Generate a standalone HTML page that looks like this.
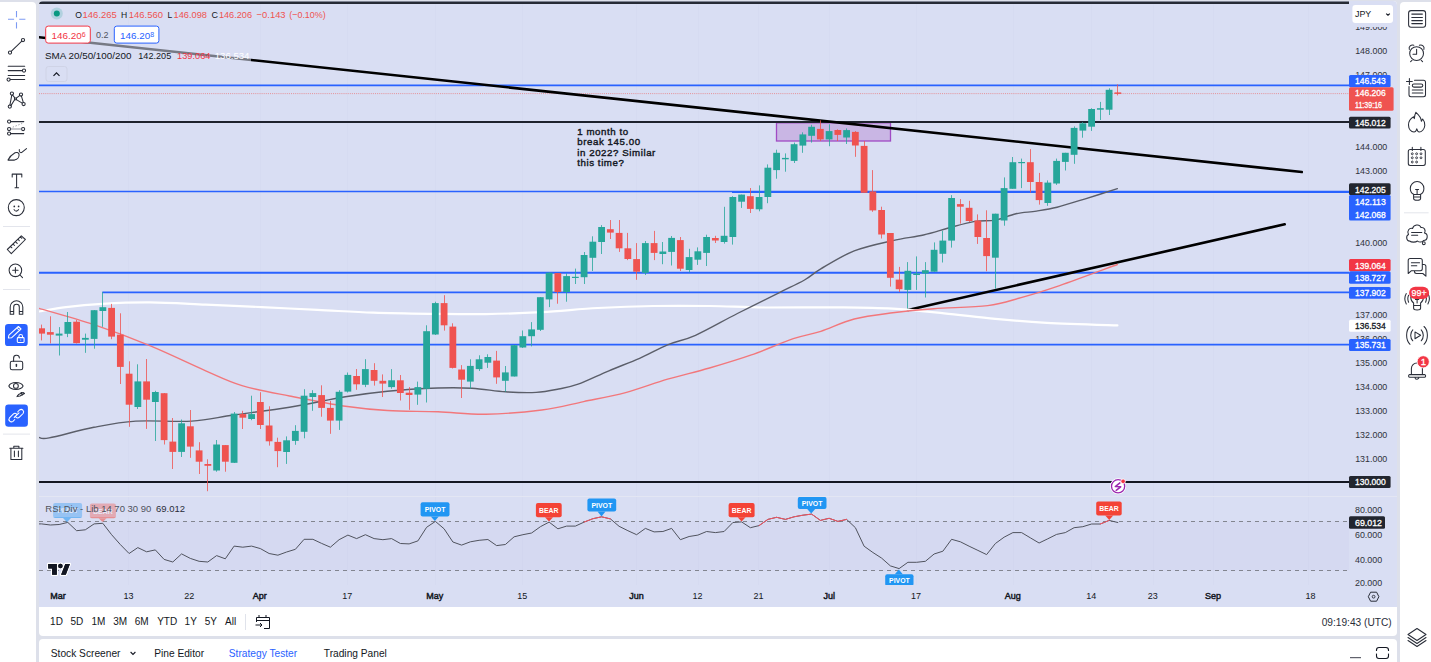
<!DOCTYPE html><html><head><meta charset="utf-8"><style>
html,body{margin:0;padding:0;}
body{width:1431px;height:662px;overflow:hidden;background:#dde0ea;position:relative;font-family:"Liberation Sans", sans-serif;}
.p{position:absolute;}
svg text{font-family:"Liberation Sans", sans-serif;}
</style></head><body>
<div class="p" style="left:0;top:2px;width:36px;height:660px;background:#fff;border-radius:0 4px 0 0;"></div>
<div class="p" style="left:1400px;top:2px;width:31px;height:660px;background:#fff;border-radius:4px 0 0 0;"></div>
<div class="p" style="left:39px;top:1px;width:1358px;height:635px;background:#fff;border-radius:4px 4px 4px 4px;"></div>
<div class="p" style="left:39px;top:1px;width:1358px;height:606px;background:#d9def3;border-radius:4px 4px 0 0;"></div>
<div class="p" style="left:39px;top:639px;width:1358px;height:30px;background:#fff;border-radius:4px 4px 0 0;"></div>

<svg class="p" style="left:0;top:0" width="1431" height="662" viewBox="0 0 1431 662">
<defs><clipPath id="cm"><path d="M39 496 V5 A4 4 0 0 1 43 1 H1349 V496 Z"/></clipPath><clipPath id="cr"><rect x="39" y="497" width="1310" height="88"/></clipPath></defs>
<g stroke="#d6dbf1" stroke-width="1">
<line x1="128.5" y1="4" x2="128.5" y2="585"/>
<line x1="260.5" y1="4" x2="260.5" y2="585"/>
<line x1="347.5" y1="4" x2="347.5" y2="585"/>
<line x1="435.5" y1="4" x2="435.5" y2="585"/>
<line x1="522.5" y1="4" x2="522.5" y2="585"/>
<line x1="636.5" y1="4" x2="636.5" y2="585"/>
<line x1="698.5" y1="4" x2="698.5" y2="585"/>
<line x1="758.5" y1="4" x2="758.5" y2="585"/>
<line x1="829.5" y1="4" x2="829.5" y2="585"/>
<line x1="916.5" y1="4" x2="916.5" y2="585"/>
<line x1="1013.5" y1="4" x2="1013.5" y2="585"/>
<line x1="1091.5" y1="4" x2="1091.5" y2="585"/>
<line x1="1153.5" y1="4" x2="1153.5" y2="585"/>
<line x1="1213.5" y1="4" x2="1213.5" y2="585"/>
<line x1="1308.5" y1="4" x2="1308.5" y2="585"/>
</g>
<rect x="39" y="496" width="1358" height="1" fill="#e3e6f3"/>
<g clip-path="url(#cm)">
<rect x="776.5" y="122.8" width="114" height="18.2" fill="#c9b6e4" stroke="#a04bc4" stroke-width="1.3"/>
<line x1="39" y1="2.7" x2="1349" y2="2.7" stroke="#262a35" stroke-width="2.6" />
<line x1="39" y1="85.3" x2="1349" y2="85.3" stroke="#2962ff" stroke-width="1.8" />
<line x1="39" y1="93.6" x2="1349" y2="93.6" stroke="#ef5350" stroke-width="1" stroke-dasharray="1 1.1" stroke-opacity="0.55"/>
<line x1="39" y1="122" x2="1349" y2="122" stroke="#1e222d" stroke-width="2.0" />
<line x1="39" y1="191.4" x2="1349" y2="191.4" stroke="#2962ff" stroke-width="1.5" />
<line x1="732" y1="192.2" x2="1349" y2="192.2" stroke="#2962ff" stroke-width="1.5" />
<line x1="39" y1="272.75" x2="1349" y2="272.75" stroke="#2962ff" stroke-width="1.8" />
<line x1="102.3" y1="292.4" x2="1349" y2="292.4" stroke="#2962ff" stroke-width="1.8" />
<line x1="39" y1="344.7" x2="1349" y2="344.7" stroke="#2962ff" stroke-width="1.8" />
<line x1="39" y1="482" x2="1349" y2="482" stroke="#131722" stroke-width="2" />
<line x1="39" y1="37.3" x2="1301.8" y2="172" stroke="#000" stroke-width="2.6" stroke-linecap="round"/>
<line x1="908" y1="310" x2="1284.7" y2="224.3" stroke="#000" stroke-width="2.6" stroke-linecap="round"/>
<path d="M39.0 311.5 C43.5 310.8 55.5 308.4 66.0 307.1 C76.5 305.8 88.3 304.6 102.3 303.8 C116.3 303.0 132.6 302.3 149.8 302.4 C167.0 302.5 187.1 303.8 205.7 304.6 C224.3 305.4 243.0 306.2 261.6 307.1 C280.2 308.0 298.9 309.0 317.5 309.9 C336.1 310.8 354.6 312.0 373.4 312.7 C392.1 313.4 411.2 313.6 430.0 313.8 C448.8 314.0 467.3 314.4 485.9 314.1 C504.5 313.8 523.2 313.1 541.8 312.1 C560.4 311.1 579.1 309.0 597.7 308.0 C616.3 307.0 635.0 306.3 653.6 306.0 C672.2 305.7 690.9 305.8 709.5 306.0 C728.1 306.2 743.4 307.3 765.4 307.5 C787.4 307.7 820.2 307.2 841.4 307.4 C862.6 307.6 875.6 307.7 892.7 308.7 C909.8 309.7 927.0 311.6 944.1 313.3 C961.2 315.0 978.3 317.3 995.4 318.9 C1012.5 320.5 1026.5 321.7 1046.8 322.8 C1067.1 323.9 1105.6 325.0 1117.4 325.4" fill="none" stroke="#ffffff" stroke-width="2.2" stroke-linecap="round"/>
<path d="M39.0 308.3 C48.1 311.0 75.4 318.5 93.9 324.7 C112.4 330.9 131.2 338.0 149.8 345.7 C168.4 353.4 190.3 364.1 205.7 370.8 C221.1 377.5 228.0 381.4 242.0 385.6 C256.0 389.8 272.3 392.6 289.5 396.0 C306.7 399.4 329.1 403.9 345.4 406.3 C361.7 408.7 372.0 409.6 387.4 410.5 C402.8 411.4 421.6 411.2 438.0 411.8 C454.4 412.4 468.6 414.5 485.9 414.2 C503.2 413.9 525.5 412.1 541.8 410.0 C558.1 407.9 569.7 404.5 583.7 401.6 C597.7 398.7 611.6 396.3 625.6 392.6 C639.6 388.9 653.6 383.3 667.6 379.2 C681.6 375.1 695.5 372.1 709.5 368.0 C723.5 363.9 737.4 359.8 751.4 354.9 C765.4 350.0 781.7 342.6 793.3 338.7 C804.9 334.8 810.6 334.6 820.8 331.3 C830.9 328.0 842.2 322.1 854.2 319.0 C866.2 315.9 879.4 314.5 892.7 312.8 C906.0 311.1 918.0 309.9 933.8 308.7 C949.6 307.5 973.2 307.5 987.7 305.6 C1002.2 303.8 1009.1 300.9 1021.1 297.6 C1033.1 294.3 1043.5 291.1 1059.6 285.6 C1075.6 280.1 1107.8 268.0 1117.4 264.5" fill="none" stroke="#f2777b" stroke-width="1.4" stroke-linecap="round"/>
<path d="M39.0 437.4 C40.7 437.5 40.1 439.6 49.2 437.9 C58.4 436.2 79.5 430.1 93.9 427.3 C108.3 424.5 119.5 422.1 135.8 421.1 C152.1 420.1 175.4 422.1 191.7 421.1 C208.0 420.1 217.3 417.3 233.6 415.0 C249.9 412.7 270.9 410.2 289.5 407.2 C308.1 404.2 329.1 399.5 345.4 396.8 C361.7 394.1 372.0 392.7 387.4 391.2 C402.8 389.7 423.9 388.5 438.0 388.0 C452.1 387.5 460.6 387.6 471.9 388.2 C483.1 388.8 494.8 391.1 505.5 391.8 C516.2 392.5 527.4 392.9 536.2 392.4 C545.1 391.9 551.6 390.4 558.6 389.0 C565.6 387.6 569.7 387.2 578.1 384.2 C586.5 381.2 598.6 375.1 608.9 370.8 C619.1 366.5 629.8 362.6 639.6 358.3 C649.4 354.0 658.3 348.6 667.6 344.8 C676.9 341.0 683.9 340.5 695.5 335.3 C707.1 330.1 723.4 320.6 737.4 313.5 C751.4 306.4 768.2 298.2 779.4 292.6 C790.6 287.0 797.6 283.9 804.5 280.0 C811.4 276.1 812.5 273.8 820.8 268.9 C829.1 264.0 842.2 255.6 854.2 250.9 C866.2 246.2 881.2 243.2 892.7 240.6 C904.2 237.9 914.1 237.1 923.5 235.0 C932.9 232.9 940.6 230.1 949.2 227.8 C957.8 225.5 967.2 222.7 974.9 221.4 C982.6 220.1 988.5 221.4 995.4 220.1 C1002.2 218.8 1009.1 215.2 1016.0 213.7 C1022.9 212.2 1029.7 212.2 1036.5 211.1 C1043.3 210.0 1049.0 209.2 1057.1 207.2 C1065.2 205.1 1075.2 201.9 1085.3 198.8 C1095.3 195.7 1112.1 190.4 1117.4 188.7" fill="none" stroke="#5b5e69" stroke-width="1.4" stroke-linecap="round"/>
<rect x="41" y="324.6" width="1" height="15.8" fill="#ef5350" fill-opacity="0.8"/>
<rect x="38.20" y="328.3" width="6.8" height="5.3" fill="#ef5350"/>
<rect x="50" y="316.3" width="1" height="27.1" fill="#ef5350" fill-opacity="0.8"/>
<rect x="46.95" y="332.1" width="6.8" height="2.6" fill="#ef5350"/>
<rect x="59" y="327.1" width="1" height="28.4" fill="#26a69a" fill-opacity="0.8"/>
<rect x="55.70" y="333.6" width="6.8" height="2.0" fill="#26a69a"/>
<rect x="67" y="312.0" width="1" height="25.1" fill="#26a69a" fill-opacity="0.8"/>
<rect x="64.45" y="322.0" width="6.8" height="11.8" fill="#26a69a"/>
<rect x="76" y="320.0" width="1" height="23.5" fill="#ef5350" fill-opacity="0.8"/>
<rect x="73.20" y="321.7" width="6.8" height="21.4" fill="#ef5350"/>
<rect x="85" y="333.6" width="1" height="19.2" fill="#26a69a" fill-opacity="0.8"/>
<rect x="81.95" y="337.9" width="6.8" height="1.8" fill="#26a69a"/>
<rect x="94" y="310.0" width="1" height="38.7" fill="#26a69a" fill-opacity="0.8"/>
<rect x="90.70" y="310.2" width="6.8" height="28.7" fill="#26a69a"/>
<rect x="102" y="292.1" width="1" height="34.7" fill="#26a69a" fill-opacity="0.8"/>
<rect x="99.45" y="307.2" width="6.8" height="3.8" fill="#26a69a"/>
<rect x="111" y="303.9" width="1" height="35.3" fill="#ef5350" fill-opacity="0.8"/>
<rect x="108.20" y="307.9" width="6.8" height="28.7" fill="#ef5350"/>
<rect x="120" y="313.3" width="1" height="70.7" fill="#ef5350" fill-opacity="0.8"/>
<rect x="116.95" y="334.7" width="6.8" height="32.2" fill="#ef5350"/>
<rect x="129" y="361.3" width="1" height="65.5" fill="#ef5350" fill-opacity="0.8"/>
<rect x="125.70" y="373.7" width="6.8" height="31.0" fill="#ef5350"/>
<rect x="137" y="364.3" width="1" height="44.7" fill="#26a69a" fill-opacity="0.8"/>
<rect x="134.45" y="381.4" width="6.8" height="25.6" fill="#26a69a"/>
<rect x="146" y="359.0" width="1" height="69.9" fill="#ef5350" fill-opacity="0.8"/>
<rect x="143.20" y="381.4" width="6.8" height="18.3" fill="#ef5350"/>
<rect x="155" y="390.8" width="1" height="50.2" fill="#26a69a" fill-opacity="0.8"/>
<rect x="151.95" y="392.0" width="6.8" height="10.0" fill="#26a69a"/>
<rect x="164" y="393.0" width="1" height="51.5" fill="#ef5350" fill-opacity="0.8"/>
<rect x="160.70" y="393.2" width="6.8" height="46.9" fill="#ef5350"/>
<rect x="172" y="418.0" width="1" height="51.0" fill="#ef5350" fill-opacity="0.8"/>
<rect x="169.45" y="441.6" width="6.8" height="10.3" fill="#ef5350"/>
<rect x="181" y="419.5" width="1" height="37.5" fill="#26a69a" fill-opacity="0.8"/>
<rect x="178.20" y="423.3" width="6.8" height="28.6" fill="#26a69a"/>
<rect x="190" y="410.0" width="1" height="47.8" fill="#ef5350" fill-opacity="0.8"/>
<rect x="186.95" y="426.3" width="6.8" height="20.3" fill="#ef5350"/>
<rect x="199" y="442.2" width="1" height="31.8" fill="#ef5350" fill-opacity="0.8"/>
<rect x="195.70" y="450.4" width="6.8" height="11.3" fill="#ef5350"/>
<rect x="207" y="459.3" width="1" height="31.9" fill="#ef5350" fill-opacity="0.8"/>
<rect x="204.45" y="464.0" width="6.8" height="1.8" fill="#ef5350"/>
<rect x="216" y="440.0" width="1" height="31.7" fill="#26a69a" fill-opacity="0.8"/>
<rect x="213.20" y="444.5" width="6.8" height="26.0" fill="#26a69a"/>
<rect x="225" y="445.0" width="1" height="26.7" fill="#ef5350" fill-opacity="0.8"/>
<rect x="221.95" y="445.1" width="6.8" height="16.6" fill="#ef5350"/>
<rect x="234" y="412.0" width="1" height="51.0" fill="#26a69a" fill-opacity="0.8"/>
<rect x="230.70" y="413.6" width="6.8" height="49.2" fill="#26a69a"/>
<rect x="242" y="410.8" width="1" height="18.2" fill="#ef5350" fill-opacity="0.8"/>
<rect x="239.45" y="414.1" width="6.8" height="3.6" fill="#ef5350"/>
<rect x="251" y="395.7" width="1" height="24.5" fill="#26a69a" fill-opacity="0.8"/>
<rect x="248.20" y="414.1" width="6.8" height="4.9" fill="#26a69a"/>
<rect x="260" y="392.2" width="1" height="36.8" fill="#ef5350" fill-opacity="0.8"/>
<rect x="256.95" y="402.0" width="6.8" height="23.0" fill="#ef5350"/>
<rect x="269" y="406.3" width="1" height="39.3" fill="#ef5350" fill-opacity="0.8"/>
<rect x="265.70" y="425.5" width="6.8" height="15.8" fill="#ef5350"/>
<rect x="277" y="437.7" width="1" height="29.5" fill="#ef5350" fill-opacity="0.8"/>
<rect x="274.45" y="441.9" width="6.8" height="9.2" fill="#ef5350"/>
<rect x="286" y="436.4" width="1" height="27.5" fill="#26a69a" fill-opacity="0.8"/>
<rect x="283.20" y="440.3" width="6.8" height="11.7" fill="#26a69a"/>
<rect x="295" y="425.2" width="1" height="19.6" fill="#26a69a" fill-opacity="0.8"/>
<rect x="291.95" y="430.9" width="6.8" height="10.0" fill="#26a69a"/>
<rect x="304" y="389.2" width="1" height="49.1" fill="#26a69a" fill-opacity="0.8"/>
<rect x="300.70" y="395.7" width="6.8" height="36.1" fill="#26a69a"/>
<rect x="312" y="390.2" width="1" height="20.6" fill="#26a69a" fill-opacity="0.8"/>
<rect x="309.45" y="393.1" width="6.8" height="3.9" fill="#26a69a"/>
<rect x="321" y="385.3" width="1" height="31.4" fill="#ef5350" fill-opacity="0.8"/>
<rect x="318.20" y="395.1" width="6.8" height="12.8" fill="#ef5350"/>
<rect x="330" y="401.0" width="1" height="32.8" fill="#ef5350" fill-opacity="0.8"/>
<rect x="326.95" y="407.9" width="6.8" height="12.7" fill="#ef5350"/>
<rect x="339" y="390.2" width="1" height="39.7" fill="#26a69a" fill-opacity="0.8"/>
<rect x="335.70" y="391.8" width="6.8" height="28.8" fill="#26a69a"/>
<rect x="347" y="372.5" width="1" height="20.0" fill="#26a69a" fill-opacity="0.8"/>
<rect x="344.45" y="374.9" width="6.8" height="16.7" fill="#26a69a"/>
<rect x="356" y="369.0" width="1" height="20.8" fill="#ef5350" fill-opacity="0.8"/>
<rect x="353.20" y="376.0" width="6.8" height="8.3" fill="#ef5350"/>
<rect x="365" y="359.2" width="1" height="27.9" fill="#26a69a" fill-opacity="0.8"/>
<rect x="361.95" y="369.1" width="6.8" height="15.7" fill="#26a69a"/>
<rect x="374" y="363.2" width="1" height="22.4" fill="#ef5350" fill-opacity="0.8"/>
<rect x="370.70" y="370.0" width="6.8" height="10.8" fill="#ef5350"/>
<rect x="382" y="374.4" width="1" height="22.6" fill="#ef5350" fill-opacity="0.8"/>
<rect x="379.45" y="380.8" width="6.8" height="2.8" fill="#ef5350"/>
<rect x="391" y="369.1" width="1" height="19.6" fill="#26a69a" fill-opacity="0.8"/>
<rect x="388.20" y="380.3" width="6.8" height="6.8" fill="#26a69a"/>
<rect x="400" y="375.0" width="1" height="25.5" fill="#ef5350" fill-opacity="0.8"/>
<rect x="396.95" y="380.3" width="6.8" height="12.7" fill="#ef5350"/>
<rect x="409" y="387.1" width="1" height="22.7" fill="#ef5350" fill-opacity="0.8"/>
<rect x="405.70" y="392.7" width="6.8" height="2.3" fill="#ef5350"/>
<rect x="417" y="381.6" width="1" height="23.2" fill="#26a69a" fill-opacity="0.8"/>
<rect x="414.45" y="387.1" width="6.8" height="7.5" fill="#26a69a"/>
<rect x="426" y="325.3" width="1" height="77.2" fill="#26a69a" fill-opacity="0.8"/>
<rect x="423.20" y="331.2" width="6.8" height="57.5" fill="#26a69a"/>
<rect x="435" y="301.7" width="1" height="33.3" fill="#26a69a" fill-opacity="0.8"/>
<rect x="431.95" y="303.1" width="6.8" height="31.4" fill="#26a69a"/>
<rect x="444" y="295.2" width="1" height="35.4" fill="#ef5350" fill-opacity="0.8"/>
<rect x="440.70" y="303.1" width="6.8" height="22.2" fill="#ef5350"/>
<rect x="452" y="323.3" width="1" height="45.2" fill="#ef5350" fill-opacity="0.8"/>
<rect x="449.45" y="326.6" width="6.8" height="41.3" fill="#ef5350"/>
<rect x="461" y="365.1" width="1" height="32.9" fill="#ef5350" fill-opacity="0.8"/>
<rect x="458.20" y="369.5" width="6.8" height="10.2" fill="#ef5350"/>
<rect x="470" y="359.3" width="1" height="29.4" fill="#26a69a" fill-opacity="0.8"/>
<rect x="466.95" y="365.9" width="6.8" height="15.7" fill="#26a69a"/>
<rect x="479" y="355.3" width="1" height="15.7" fill="#26a69a" fill-opacity="0.8"/>
<rect x="475.70" y="359.3" width="6.8" height="9.8" fill="#26a69a"/>
<rect x="487" y="354.3" width="1" height="13.6" fill="#26a69a" fill-opacity="0.8"/>
<rect x="484.45" y="357.0" width="6.8" height="5.7" fill="#26a69a"/>
<rect x="496" y="350.9" width="1" height="32.9" fill="#ef5350" fill-opacity="0.8"/>
<rect x="493.20" y="360.6" width="6.8" height="16.8" fill="#ef5350"/>
<rect x="505" y="366.0" width="1" height="25.7" fill="#26a69a" fill-opacity="0.8"/>
<rect x="501.95" y="372.4" width="6.8" height="8.4" fill="#26a69a"/>
<rect x="514" y="345.0" width="1" height="31.5" fill="#26a69a" fill-opacity="0.8"/>
<rect x="510.70" y="345.2" width="6.8" height="31.3" fill="#26a69a"/>
<rect x="522" y="330.5" width="1" height="17.5" fill="#26a69a" fill-opacity="0.8"/>
<rect x="519.45" y="336.2" width="6.8" height="11.3" fill="#26a69a"/>
<rect x="531" y="322.1" width="1" height="24.3" fill="#26a69a" fill-opacity="0.8"/>
<rect x="528.20" y="329.4" width="6.8" height="6.8" fill="#26a69a"/>
<rect x="540" y="297.0" width="1" height="34.0" fill="#26a69a" fill-opacity="0.8"/>
<rect x="536.95" y="297.2" width="6.8" height="32.6" fill="#26a69a"/>
<rect x="549" y="272.2" width="1" height="34.9" fill="#26a69a" fill-opacity="0.8"/>
<rect x="545.70" y="272.7" width="6.8" height="26.7" fill="#26a69a"/>
<rect x="557" y="273.0" width="1" height="30.7" fill="#ef5350" fill-opacity="0.8"/>
<rect x="554.45" y="273.1" width="6.8" height="18.9" fill="#ef5350"/>
<rect x="566" y="273.4" width="1" height="28.3" fill="#26a69a" fill-opacity="0.8"/>
<rect x="563.20" y="276.1" width="6.8" height="15.9" fill="#26a69a"/>
<rect x="575" y="268.6" width="1" height="15.4" fill="#26a69a" fill-opacity="0.8"/>
<rect x="571.95" y="276.8" width="6.8" height="1.2" fill="#26a69a"/>
<rect x="584" y="252.0" width="1" height="32.0" fill="#26a69a" fill-opacity="0.8"/>
<rect x="580.70" y="255.0" width="6.8" height="22.2" fill="#26a69a"/>
<rect x="592" y="236.3" width="1" height="34.7" fill="#26a69a" fill-opacity="0.8"/>
<rect x="589.45" y="241.7" width="6.8" height="16.1" fill="#26a69a"/>
<rect x="601" y="225.1" width="1" height="28.9" fill="#26a69a" fill-opacity="0.8"/>
<rect x="598.20" y="227.0" width="6.8" height="15.0" fill="#26a69a"/>
<rect x="610" y="220.0" width="1" height="19.0" fill="#ef5350" fill-opacity="0.8"/>
<rect x="606.95" y="229.2" width="6.8" height="3.4" fill="#ef5350"/>
<rect x="619" y="220.0" width="1" height="31.9" fill="#ef5350" fill-opacity="0.8"/>
<rect x="615.70" y="232.9" width="6.8" height="15.4" fill="#ef5350"/>
<rect x="627" y="232.9" width="1" height="27.2" fill="#ef5350" fill-opacity="0.8"/>
<rect x="624.45" y="248.3" width="6.8" height="10.7" fill="#ef5350"/>
<rect x="636" y="243.1" width="1" height="36.7" fill="#ef5350" fill-opacity="0.8"/>
<rect x="633.20" y="259.1" width="6.8" height="12.6" fill="#ef5350"/>
<rect x="645" y="241.0" width="1" height="34.0" fill="#26a69a" fill-opacity="0.8"/>
<rect x="641.95" y="243.1" width="6.8" height="29.7" fill="#26a69a"/>
<rect x="654" y="230.9" width="1" height="29.2" fill="#ef5350" fill-opacity="0.8"/>
<rect x="650.70" y="243.1" width="6.8" height="9.8" fill="#ef5350"/>
<rect x="662" y="242.0" width="1" height="22.2" fill="#26a69a" fill-opacity="0.8"/>
<rect x="659.45" y="251.5" width="6.8" height="2.5" fill="#26a69a"/>
<rect x="671" y="236.0" width="1" height="29.5" fill="#26a69a" fill-opacity="0.8"/>
<rect x="668.20" y="237.9" width="6.8" height="14.0" fill="#26a69a"/>
<rect x="680" y="237.0" width="1" height="34.0" fill="#ef5350" fill-opacity="0.8"/>
<rect x="676.95" y="240.1" width="6.8" height="28.6" fill="#ef5350"/>
<rect x="689" y="248.8" width="1" height="23.5" fill="#26a69a" fill-opacity="0.8"/>
<rect x="685.70" y="257.1" width="6.8" height="12.9" fill="#26a69a"/>
<rect x="697" y="247.4" width="1" height="17.5" fill="#26a69a" fill-opacity="0.8"/>
<rect x="694.45" y="251.3" width="6.8" height="8.4" fill="#26a69a"/>
<rect x="706" y="234.7" width="1" height="31.3" fill="#26a69a" fill-opacity="0.8"/>
<rect x="703.20" y="237.0" width="6.8" height="15.9" fill="#26a69a"/>
<rect x="715" y="235.8" width="1" height="7.2" fill="#ef5350" fill-opacity="0.8"/>
<rect x="711.95" y="238.0" width="6.8" height="2.5" fill="#ef5350"/>
<rect x="724" y="206.8" width="1" height="36.8" fill="#26a69a" fill-opacity="0.8"/>
<rect x="720.70" y="235.8" width="6.8" height="6.2" fill="#26a69a"/>
<rect x="732" y="196.2" width="1" height="48.4" fill="#26a69a" fill-opacity="0.8"/>
<rect x="729.45" y="197.0" width="6.8" height="40.0" fill="#26a69a"/>
<rect x="741" y="194.6" width="1" height="13.3" fill="#26a69a" fill-opacity="0.8"/>
<rect x="738.20" y="194.6" width="6.8" height="7.1" fill="#26a69a"/>
<rect x="750" y="188.0" width="1" height="25.0" fill="#ef5350" fill-opacity="0.8"/>
<rect x="746.95" y="196.2" width="6.8" height="12.7" fill="#ef5350"/>
<rect x="759" y="185.4" width="1" height="25.9" fill="#26a69a" fill-opacity="0.8"/>
<rect x="755.70" y="197.0" width="6.8" height="12.3" fill="#26a69a"/>
<rect x="767" y="164.4" width="1" height="38.8" fill="#26a69a" fill-opacity="0.8"/>
<rect x="764.45" y="167.7" width="6.8" height="29.3" fill="#26a69a"/>
<rect x="776" y="149.7" width="1" height="29.0" fill="#26a69a" fill-opacity="0.8"/>
<rect x="773.20" y="152.8" width="6.8" height="17.3" fill="#26a69a"/>
<rect x="785" y="153.4" width="1" height="18.3" fill="#26a69a" fill-opacity="0.8"/>
<rect x="781.95" y="157.9" width="6.8" height="1.4" fill="#26a69a"/>
<rect x="794" y="142.6" width="1" height="20.4" fill="#26a69a" fill-opacity="0.8"/>
<rect x="790.70" y="144.2" width="6.8" height="16.7" fill="#26a69a"/>
<rect x="802" y="132.3" width="1" height="20.5" fill="#26a69a" fill-opacity="0.8"/>
<rect x="799.45" y="134.4" width="6.8" height="11.2" fill="#26a69a"/>
<rect x="811" y="124.8" width="1" height="17.8" fill="#26a69a" fill-opacity="0.8"/>
<rect x="808.20" y="126.8" width="6.8" height="9.0" fill="#26a69a"/>
<rect x="820" y="120.3" width="1" height="20.7" fill="#ef5350" fill-opacity="0.8"/>
<rect x="816.95" y="128.9" width="6.8" height="10.5" fill="#ef5350"/>
<rect x="829" y="124.3" width="1" height="21.9" fill="#26a69a" fill-opacity="0.8"/>
<rect x="825.70" y="131.1" width="6.8" height="8.3" fill="#26a69a"/>
<rect x="837" y="129.3" width="1" height="11.7" fill="#ef5350" fill-opacity="0.8"/>
<rect x="834.45" y="130.0" width="6.8" height="4.9" fill="#ef5350"/>
<rect x="846" y="128.4" width="1" height="15.6" fill="#26a69a" fill-opacity="0.8"/>
<rect x="843.20" y="130.1" width="6.8" height="7.4" fill="#26a69a"/>
<rect x="855" y="131.1" width="1" height="25.7" fill="#ef5350" fill-opacity="0.8"/>
<rect x="851.95" y="131.9" width="6.8" height="13.6" fill="#ef5350"/>
<rect x="864" y="141.0" width="1" height="51.8" fill="#ef5350" fill-opacity="0.8"/>
<rect x="860.70" y="145.9" width="6.8" height="46.9" fill="#ef5350"/>
<rect x="872" y="170.1" width="1" height="41.7" fill="#ef5350" fill-opacity="0.8"/>
<rect x="869.45" y="191.4" width="6.8" height="19.0" fill="#ef5350"/>
<rect x="881" y="206.7" width="1" height="31.8" fill="#ef5350" fill-opacity="0.8"/>
<rect x="878.20" y="210.0" width="6.8" height="24.5" fill="#ef5350"/>
<rect x="890" y="233.0" width="1" height="53.6" fill="#ef5350" fill-opacity="0.8"/>
<rect x="886.95" y="233.0" width="6.8" height="44.8" fill="#ef5350"/>
<rect x="899" y="266.9" width="1" height="25.1" fill="#ef5350" fill-opacity="0.8"/>
<rect x="895.70" y="279.6" width="6.8" height="9.6" fill="#ef5350"/>
<rect x="907" y="262.1" width="1" height="46.4" fill="#26a69a" fill-opacity="0.8"/>
<rect x="904.45" y="270.8" width="6.8" height="19.1" fill="#26a69a"/>
<rect x="916" y="256.4" width="1" height="33.5" fill="#26a69a" fill-opacity="0.8"/>
<rect x="913.20" y="273.5" width="6.8" height="1.5" fill="#26a69a"/>
<rect x="925" y="262.1" width="1" height="35.4" fill="#26a69a" fill-opacity="0.8"/>
<rect x="921.95" y="270.2" width="6.8" height="3.3" fill="#26a69a"/>
<rect x="934" y="242.4" width="1" height="29.3" fill="#26a69a" fill-opacity="0.8"/>
<rect x="930.70" y="249.8" width="6.8" height="21.9" fill="#26a69a"/>
<rect x="942" y="230.8" width="1" height="31.7" fill="#26a69a" fill-opacity="0.8"/>
<rect x="939.45" y="240.6" width="6.8" height="13.2" fill="#26a69a"/>
<rect x="951" y="195.1" width="1" height="52.5" fill="#26a69a" fill-opacity="0.8"/>
<rect x="948.20" y="198.0" width="6.8" height="42.6" fill="#26a69a"/>
<rect x="960" y="199.1" width="1" height="24.5" fill="#ef5350" fill-opacity="0.8"/>
<rect x="956.95" y="204.1" width="6.8" height="2.6" fill="#ef5350"/>
<rect x="969" y="200.8" width="1" height="21.2" fill="#ef5350" fill-opacity="0.8"/>
<rect x="965.70" y="207.8" width="6.8" height="13.2" fill="#ef5350"/>
<rect x="977" y="214.4" width="1" height="29.5" fill="#ef5350" fill-opacity="0.8"/>
<rect x="974.45" y="220.5" width="6.8" height="16.5" fill="#ef5350"/>
<rect x="986" y="210.3" width="1" height="60.9" fill="#ef5350" fill-opacity="0.8"/>
<rect x="983.20" y="238.0" width="6.8" height="18.1" fill="#ef5350"/>
<rect x="995" y="213.7" width="1" height="75.0" fill="#26a69a" fill-opacity="0.8"/>
<rect x="991.95" y="213.7" width="6.8" height="44.0" fill="#26a69a"/>
<rect x="1004" y="177.4" width="1" height="48.3" fill="#26a69a" fill-opacity="0.8"/>
<rect x="1000.70" y="188.1" width="6.8" height="32.4" fill="#26a69a"/>
<rect x="1012" y="157.0" width="1" height="31.8" fill="#26a69a" fill-opacity="0.8"/>
<rect x="1009.45" y="162.2" width="6.8" height="26.6" fill="#26a69a"/>
<rect x="1021" y="158.6" width="1" height="29.5" fill="#26a69a" fill-opacity="0.8"/>
<rect x="1018.20" y="162.0" width="6.8" height="1.2" fill="#26a69a"/>
<rect x="1030" y="149.1" width="1" height="43.5" fill="#ef5350" fill-opacity="0.8"/>
<rect x="1026.95" y="162.2" width="6.8" height="19.8" fill="#ef5350"/>
<rect x="1039" y="172.9" width="1" height="31.7" fill="#ef5350" fill-opacity="0.8"/>
<rect x="1035.70" y="182.0" width="6.8" height="18.1" fill="#ef5350"/>
<rect x="1047" y="180.4" width="1" height="25.4" fill="#26a69a" fill-opacity="0.8"/>
<rect x="1044.45" y="182.6" width="6.8" height="20.4" fill="#26a69a"/>
<rect x="1056" y="158.6" width="1" height="26.3" fill="#26a69a" fill-opacity="0.8"/>
<rect x="1053.20" y="160.9" width="6.8" height="22.6" fill="#26a69a"/>
<rect x="1065" y="152.8" width="1" height="17.7" fill="#26a69a" fill-opacity="0.8"/>
<rect x="1061.95" y="152.8" width="6.8" height="9.1" fill="#26a69a"/>
<rect x="1074" y="126.4" width="1" height="37.4" fill="#26a69a" fill-opacity="0.8"/>
<rect x="1070.70" y="127.9" width="6.8" height="26.9" fill="#26a69a"/>
<rect x="1082" y="122.1" width="1" height="15.6" fill="#26a69a" fill-opacity="0.8"/>
<rect x="1079.45" y="123.3" width="6.8" height="7.3" fill="#26a69a"/>
<rect x="1091" y="108.2" width="1" height="22.7" fill="#26a69a" fill-opacity="0.8"/>
<rect x="1088.20" y="109.0" width="6.8" height="17.7" fill="#26a69a"/>
<rect x="1100" y="101.9" width="1" height="18.1" fill="#26a69a" fill-opacity="0.8"/>
<rect x="1096.95" y="108.2" width="6.8" height="1.5" fill="#26a69a"/>
<rect x="1109" y="88.3" width="1" height="26.7" fill="#26a69a" fill-opacity="0.8"/>
<rect x="1105.70" y="89.8" width="6.8" height="19.9" fill="#26a69a"/>
<rect x="1117" y="84.4" width="1" height="11.0" fill="#ef5350" fill-opacity="0.8"/>
<rect x="1114.45" y="92.4" width="6.8" height="1.5" fill="#ef5350"/>
<g font-size="9.7" fill="#131722" stroke="#131722" stroke-width="0.4" letter-spacing="0.58">
<text x="577.2" y="135.0">1 month to</text>
<text x="577.2" y="145.4">break 145.00</text>
<text x="577.2" y="155.9">in 2022? Similar</text>
<text x="577.2" y="166.3">this time?</text>
</g>
<circle cx="1118.1" cy="486.3" r="7.3" fill="#fff" stroke="#fff" stroke-width="1.5"/>
<circle cx="1118.1" cy="486.3" r="6.6" fill="#fff" stroke="#9c27b0" stroke-width="1.3"/>
<path d="M1119.9 482.9 L1115.3 486.6 L1120.7 486.8 L1116.2 490.3" fill="none" stroke="#9c27b0" stroke-width="1.5" stroke-linejoin="round" stroke-linecap="round"/>
<circle cx="1123.1" cy="481.3" r="2.3" fill="#f23645" stroke="#fff" stroke-width="0.8"/>
</g>
<rect x="45" y="24" width="206" height="40" fill="#d9def3" fill-opacity="0.55"/>
<circle cx="56.8" cy="13.6" r="6" fill="#26a69a" fill-opacity="0.22"/><circle cx="56.8" cy="13.6" r="3" fill="#089981"/>
<text x="75.3" y="17.6" font-size="9.6" fill="#131722" textLength="6.7" lengthAdjust="spacingAndGlyphs">O</text>
<text x="82.6" y="17.6" font-size="9.6" fill="#ef5350" textLength="34.2" lengthAdjust="spacingAndGlyphs">146.265</text>
<text x="121" y="17.6" font-size="9.6" fill="#131722" textLength="6.2" lengthAdjust="spacingAndGlyphs">H</text>
<text x="128.8" y="17.6" font-size="9.6" fill="#ef5350" textLength="34.1" lengthAdjust="spacingAndGlyphs">146.560</text>
<text x="167.6" y="17.6" font-size="9.6" fill="#131722" textLength="4.7" lengthAdjust="spacingAndGlyphs">L</text>
<text x="173.5" y="17.6" font-size="9.6" fill="#ef5350" textLength="33.5" lengthAdjust="spacingAndGlyphs">146.098</text>
<text x="211.5" y="17.6" font-size="9.6" fill="#131722" textLength="6.5" lengthAdjust="spacingAndGlyphs">C</text>
<text x="218.9" y="17.6" font-size="9.6" fill="#ef5350" textLength="33.1" lengthAdjust="spacingAndGlyphs">146.206</text>
<text x="256.6" y="17.6" font-size="9.6" fill="#ef5350" textLength="29.0" lengthAdjust="spacingAndGlyphs">−0.143</text>
<text x="289.2" y="17.6" font-size="9.6" fill="#ef5350" textLength="36.6" lengthAdjust="spacingAndGlyphs">(−0.10%)</text>
<rect x="45.7" y="26.1" width="44.6" height="17" rx="2.5" fill="#fff" stroke="#f23645" stroke-width="1"/>
<text x="51.5" y="38.8" font-size="9.9" fill="#f23645">146.20<tspan font-size="7" dy="-2.2">6</tspan></text>
<text x="96" y="38" font-size="9" fill="#50535e">0.2</text>
<rect x="114.3" y="26.1" width="44.6" height="17" rx="2.5" fill="#fff" stroke="#2962ff" stroke-width="1"/>
<text x="120" y="38.8" font-size="9.9" fill="#2962ff">146.20<tspan font-size="7" dy="-2.2">8</tspan></text>
<text x="45" y="59" font-size="9.8" fill="#131722" textLength="86.4" lengthAdjust="spacingAndGlyphs">SMA 20/50/100/200</text>
<text x="138.3" y="59" font-size="9.8" fill="#131722" textLength="32.9" lengthAdjust="spacingAndGlyphs">142.205</text>
<text x="177.1" y="59" font-size="9.8" fill="#f23645" textLength="33.3" lengthAdjust="spacingAndGlyphs">139.064</text>
<text x="214.8" y="59" font-size="9.8" fill="#fff" textLength="34.6" lengthAdjust="spacingAndGlyphs">136.534</text>
<rect x="46" y="66.5" width="21" height="15" rx="2.5" fill="none" stroke="#cfd3e6" stroke-width="1"/>
<path d="M53.5 75.8 L56.5 72.8 L59.5 75.8" fill="none" stroke="#131722" stroke-width="1.2"/>
<g clip-path="url(#cr)">
<rect x="39" y="521.4" width="1310" height="48.9" fill="#7e57c2" fill-opacity="0.035"/>
<line x1="39" y1="521.5" x2="1349" y2="521.5" stroke="#82858f" stroke-width="1" stroke-dasharray="4 4"/>
<line x1="39" y1="570.5" x2="1349" y2="570.5" stroke="#82858f" stroke-width="1" stroke-dasharray="4 4"/>
<polyline points="39.0,523.9 41.6,523.9 50.4,525.0 59.1,524.5 67.8,522.4 76.6,530.7 85.3,529.8 94.1,523.9 102.8,523.3 111.6,534.7 120.3,544.5 129.1,553.5 137.8,547.6 146.6,551.8 155.3,549.9 164.1,559.4 172.8,562.0 181.6,553.9 190.3,558.4 199.1,561.3 207.8,562.0 216.6,555.6 225.3,558.8 234.1,546.1 242.8,547.2 251.6,546.1 260.4,548.6 269.1,553.5 277.9,555.2 286.6,552.0 295.4,549.3 304.1,539.3 312.9,539.3 321.6,543.4 330.4,547.2 339.1,539.7 347.9,535.1 356.6,538.6 365.4,534.7 374.1,538.6 382.9,539.7 391.6,538.6 400.4,543.5 409.1,543.9 417.9,540.9 426.6,527.3 435.4,521.4 444.1,528.8 452.9,542.0 461.6,545.1 470.4,541.8 479.1,540.3 487.9,539.5 496.6,545.6 505.4,544.5 514.1,536.8 522.9,534.7 531.6,533.0 540.4,526.7 549.1,522.1 557.9,528.8 566.6,526.1 575.4,526.1 584.1,522.1 592.9,518.7 601.6,516.8 610.4,518.9 619.1,526.3 627.9,530.7 636.6,534.7 645.4,528.4 654.1,531.9 662.9,531.5 671.6,528.4 680.4,539.7 689.1,536.5 697.9,535.1 706.6,531.5 715.4,532.6 724.1,531.5 732.9,522.5 741.6,521.9 750.4,527.7 759.1,525.6 767.9,519.4 776.6,517.3 785.4,519.4 794.1,516.8 802.9,515.2 811.6,514.1 820.4,520.4 829.1,518.3 837.9,521.4 846.6,519.4 855.4,527.7 864.1,546.2 872.9,552.5 881.6,558.1 890.4,565.9 899.1,568.6 907.9,562.3 916.6,562.3 925.4,561.3 934.1,554.0 942.9,551.2 951.6,539.3 960.4,541.8 969.1,546.2 977.9,550.4 986.6,554.6 995.4,543.5 1004.1,537.2 1012.9,532.6 1021.6,532.6 1030.3,537.8 1039.1,543.0 1047.8,538.8 1056.6,534.4 1065.3,532.6 1074.1,527.7 1082.8,526.7 1091.6,524.0 1100.3,524.0 1109.1,520.4 1117.8,522.5" fill="none" stroke="#50535e" stroke-width="1.0" stroke-linejoin="round" stroke-linecap="round" />
<polyline points="584.1,522.1 592.9,518.7 601.6,516.8 610.4,518.9" fill="none" stroke="#f7525f" stroke-width="1.0" stroke-linejoin="round" stroke-linecap="round" />
<polyline points="759.1,525.6 767.9,519.4 776.6,517.3 785.4,519.4 794.1,516.8 802.9,515.2 811.6,514.1 820.4,520.4 829.1,518.3 837.9,521.4 846.6,519.4" fill="none" stroke="#f7525f" stroke-width="1.0" stroke-linejoin="round" stroke-linecap="round" />
<polyline points="1100.3,524.0 1109.1,520.4" fill="none" stroke="#f7525f" stroke-width="1.0" stroke-linejoin="round" stroke-linecap="round" />
<path d="M48.2 564 H56.8 V574.8 H52.1 V568.6 H48.2 Z M65.3 564 H69.9 L65.8 574.8 H61.1 Z" fill="#131722" stroke="#fff" stroke-width="2.4" stroke-linejoin="round" paint-order="stroke"/><circle cx="60.4" cy="566" r="2.2" fill="#131722" stroke="#fff" stroke-width="2.4" paint-order="stroke"/><path d="M48.2 564 H56.8 V574.8 H52.1 V568.6 H48.2 Z M65.3 564 H69.9 L65.8 574.8 H61.1 Z" fill="#131722"/><circle cx="60.4" cy="566" r="2.2" fill="#131722"/>
<g opacity="0.55"><rect x="53.1" y="503" width="29.0" height="14.9" rx="2" fill="#2196f3"/><path d="M63.0 517.9 L67.0 522.3 L71.0 517.9 Z" fill="#2196f3"/><text x="67.6" y="513.1" font-size="6.9" font-weight="bold" fill="#fff" text-anchor="middle">PIVOT</text></g>
<g opacity="0.5"><rect x="89.9" y="503.4" width="26.0" height="14.8" rx="2" fill="#f44336"/><path d="M98.6 518.2 L102.6 522 L106.6 518.2 Z" fill="#f44336"/><text x="102.9" y="513.5" font-size="6.9" font-weight="bold" fill="#fff" text-anchor="middle">BEAR</text></g>
<g opacity="1.0"><rect x="420.6" y="502.2" width="28.9" height="14.4" rx="2" fill="#2196f3"/><path d="M430.8 516.6 L434.8 521 L438.8 516.6 Z" fill="#2196f3"/><text x="435.1" y="512.1" font-size="6.9" font-weight="bold" fill="#fff" text-anchor="middle">PIVOT</text></g>
<g opacity="1.0"><rect x="535.9" y="503" width="25.8" height="14.3" rx="2" fill="#f44336"/><path d="M545.0 517.3 L549.0 521.5 L553.0 517.3 Z" fill="#f44336"/><text x="548.8" y="512.9" font-size="6.9" font-weight="bold" fill="#fff" text-anchor="middle">BEAR</text></g>
<g opacity="1.0"><rect x="587.4" y="498.4" width="28.8" height="13.2" rx="2" fill="#2196f3"/><path d="M597.5 511.6 L601.5 516.5 L605.5 511.6 Z" fill="#2196f3"/><text x="601.8" y="507.7" font-size="6.9" font-weight="bold" fill="#fff" text-anchor="middle">PIVOT</text></g>
<g opacity="1.0"><rect x="728.6" y="503" width="26.0" height="14.3" rx="2" fill="#f44336"/><path d="M737.6 517.3 L741.6 521.5 L745.6 517.3 Z" fill="#f44336"/><text x="741.6" y="512.9" font-size="6.9" font-weight="bold" fill="#fff" text-anchor="middle">BEAR</text></g>
<g opacity="1.0"><rect x="797.8" y="496.9" width="28.7" height="12.0" rx="2" fill="#2196f3"/><path d="M807.2 508.9 L811.2 513.5 L815.2 508.9 Z" fill="#2196f3"/><text x="812.1" y="505.6" font-size="6.9" font-weight="bold" fill="#fff" text-anchor="middle">PIVOT</text></g>
<g opacity="1.0"><rect x="885.2" y="574.3" width="28.3" height="11.5" rx="2" fill="#2196f3"/><path d="M894.8 574.3 L898.8 569.5 L902.8 574.3 Z" fill="#2196f3"/><text x="899.4" y="582.8" font-size="6.9" font-weight="bold" fill="#fff" text-anchor="middle">PIVOT</text></g>
<g opacity="1.0"><rect x="1096.2" y="501.5" width="25.5" height="14.1" rx="2" fill="#f44336"/><path d="M1105.2 515.6 L1109.2 520 L1113.2 515.6 Z" fill="#f44336"/><text x="1109.0" y="511.2" font-size="6.9" font-weight="bold" fill="#fff" text-anchor="middle">BEAR</text></g>
</g>
<rect x="39" y="501" width="150" height="16" fill="#d9def3" fill-opacity="0.35"/>
<text x="45.3" y="512.4" font-size="9.5" fill="#50535e" textLength="106" lengthAdjust="spacingAndGlyphs">RSI Div - Lib 14 70 30 90</text><text x="156" y="512.4" font-size="9.5" fill="#2a2e39" textLength="29" lengthAdjust="spacingAndGlyphs">69.012</text>
<g font-size="9" fill="#131722" text-anchor="middle">
<text x="58" y="599.3" stroke="#131722" stroke-width="0.45">Mar</text>
<text x="128.4" y="599.3">13</text>
<text x="189.3" y="599.3">22</text>
<text x="259.7" y="599.3" stroke="#131722" stroke-width="0.45">Apr</text>
<text x="347.2" y="599.3">17</text>
<text x="434.8" y="599.3" stroke="#131722" stroke-width="0.45">May</text>
<text x="522.3" y="599.3">15</text>
<text x="636.4" y="599.3" stroke="#131722" stroke-width="0.45">Jun</text>
<text x="697.6" y="599.3">12</text>
<text x="758.4" y="599.3">21</text>
<text x="829.2" y="599.3" stroke="#131722" stroke-width="0.45">Jul</text>
<text x="916" y="599.3">17</text>
<text x="1012.7" y="599.3" stroke="#131722" stroke-width="0.45">Aug</text>
<text x="1091.3" y="599.3">14</text>
<text x="1152.8" y="599.3">23</text>
<text x="1213" y="599.3" stroke="#131722" stroke-width="0.45">Sep</text>
<text x="1310.5" y="599.3">18</text>
</g>
<path d="M1370.6 592.2 H1376.6 L1378.9 596.7 L1376.6 601.2 H1370.6 L1368.3 596.7 Z" fill="none" stroke="#2a2e39" stroke-width="1"/><circle cx="1373.6" cy="596.7" r="1.4" fill="none" stroke="#2a2e39" stroke-width="0.9"/>
<g font-size="8.9" fill="#2f323c">
<text x="1355.2" y="29.9">149.000</text>
<text x="1355.2" y="53.9">148.000</text>
<text x="1355.2" y="77.9">147.000</text>
<text x="1355.2" y="149.9">144.000</text>
<text x="1355.2" y="173.9">143.000</text>
<text x="1355.2" y="245.9">140.000</text>
<text x="1355.2" y="317.9">137.000</text>
<text x="1355.2" y="341.9">136.000</text>
<text x="1355.2" y="365.9">135.000</text>
<text x="1355.2" y="389.9">134.000</text>
<text x="1355.2" y="413.9">133.000</text>
<text x="1355.2" y="437.9">132.000</text>
<text x="1355.2" y="461.9">131.000</text>
<text x="1355.0" y="512.9">80.000</text>
<text x="1355.0" y="537.6">60.000</text>
<text x="1355.0" y="562.5">40.000</text>
<text x="1355.0" y="586.2">20.000</text>
</g>
<rect x="1349" y="22" width="46" height="5" fill="#d9def3"/>
<rect x="1352.4" y="5" width="40.6" height="18" rx="3" fill="#fff"/>
<text x="1355" y="17.2" font-size="8.9" fill="#131722">JPY</text>
<path d="M1386.2 13.6 L1388 15.2 L1389.8 13.6" fill="none" stroke="#131722" stroke-width="1.2"/>
<rect x="1349" y="75" width="41.6" height="12.2" rx="1.5" fill="#2962ff"/>
<text x="1355" y="84.4" font-size="9.1" fill="#fff" stroke="#fff" stroke-width="0.3" textLength="30.8" lengthAdjust="spacingAndGlyphs">146.543</text>
<rect x="1349" y="87.2" width="44.6" height="23.6" rx="1.5" fill="#ef5350"/>
<text x="1355" y="96.4" font-size="9.1" fill="#fff" stroke="#fff" stroke-width="0.3" textLength="30.8" lengthAdjust="spacingAndGlyphs">146.206</text>
<text x="1355" y="108.2" font-size="9.1" fill="#fff" stroke="#fff" stroke-width="0.3" textLength="27.0" lengthAdjust="spacingAndGlyphs">11:39:16</text>
<rect x="1349" y="116.7" width="41.6" height="11.7" rx="1.5" fill="#22262f"/>
<text x="1355" y="125.9" font-size="9.1" fill="#fff" stroke="#fff" stroke-width="0.3" textLength="30.8" lengthAdjust="spacingAndGlyphs">145.012</text>
<rect x="1349" y="183.3" width="41.6" height="11.8" rx="1.5" fill="#22262f"/>
<text x="1355" y="192.5" font-size="9.1" fill="#fff" stroke="#fff" stroke-width="0.3" textLength="30.8" lengthAdjust="spacingAndGlyphs">142.205</text>
<rect x="1349" y="195.1" width="41.6" height="25.5" rx="1.5" fill="#2962ff"/>
<text x="1355" y="204.8" font-size="9.1" fill="#fff" stroke="#fff" stroke-width="0.3" textLength="30.8" lengthAdjust="spacingAndGlyphs">142.113</text>
<text x="1355" y="217.5" font-size="9.1" fill="#fff" stroke="#fff" stroke-width="0.3" textLength="30.8" lengthAdjust="spacingAndGlyphs">142.068</text>
<rect x="1349" y="259.1" width="41.6" height="12.2" rx="1.5" fill="#f23645"/>
<text x="1355" y="268.5" font-size="9.1" fill="#fff" stroke="#fff" stroke-width="0.3" textLength="30.8" lengthAdjust="spacingAndGlyphs">139.064</text>
<rect x="1349" y="271.3" width="41.6" height="12.4" rx="1.5" fill="#2962ff"/>
<text x="1355" y="280.8" font-size="9.1" fill="#fff" stroke="#fff" stroke-width="0.3" textLength="30.8" lengthAdjust="spacingAndGlyphs">138.727</text>
<rect x="1349" y="286.9" width="41.6" height="11.8" rx="1.5" fill="#2962ff"/>
<text x="1355" y="296.1" font-size="9.1" fill="#fff" stroke="#fff" stroke-width="0.3" textLength="30.8" lengthAdjust="spacingAndGlyphs">137.902</text>
<rect x="1349" y="319.8" width="41.6" height="11.9" rx="1.5" fill="#ffffff"/>
<text x="1355" y="329.1" font-size="9.1" fill="#131722" stroke="#131722" stroke-width="0.3" textLength="30.8" lengthAdjust="spacingAndGlyphs">136.534</text>
<rect x="1349" y="338.9" width="41.6" height="12.1" rx="1.5" fill="#2962ff"/>
<text x="1355" y="348.2" font-size="9.1" fill="#fff" stroke="#fff" stroke-width="0.3" textLength="30.8" lengthAdjust="spacingAndGlyphs">135.731</text>
<rect x="1349" y="476.1" width="41.6" height="12.0" rx="1.5" fill="#22262f"/>
<text x="1355" y="485.4" font-size="9.1" fill="#fff" stroke="#fff" stroke-width="0.3" textLength="30.8" lengthAdjust="spacingAndGlyphs">130.000</text>
<rect x="1349" y="516.2" width="36.0" height="12.5" rx="1.5" fill="#22262f"/>
<text x="1355" y="525.8" font-size="9.1" fill="#fff" stroke="#fff" stroke-width="0.3" textLength="27.0" lengthAdjust="spacingAndGlyphs">69.012</text>
<g font-size="10" fill="#131722">
<text x="50.1" y="625.4">1D</text>
<text x="70.5" y="625.4">5D</text>
<text x="91.5" y="625.4">1M</text>
<text x="113.3" y="625.4">3M</text>
<text x="134.8" y="625.4">6M</text>
<text x="157.2" y="625.4">YTD</text>
<text x="184.6" y="625.4">1Y</text>
<text x="204.7" y="625.4">5Y</text>
<text x="225.1" y="625.4">All</text>
</g>
<rect x="245" y="614" width="1" height="16" fill="#e0e3eb"/>
<g fill="none" stroke="#131722" stroke-width="1"><path d="M259 615 v2.5 M266 615 v2.5 M256.5 617.5 H269.5 V628.5 H264 M256.5 617.5 V622 M256.5 620.5 H269.5"/><path d="M255.5 625 H262 M260 623 L262 625 L260 627"/></g>
<text x="1391.7" y="626" font-size="10.4" fill="#2a2e39" text-anchor="end" textLength="70" lengthAdjust="spacingAndGlyphs">09:19:43 (UTC)</text>
<g font-size="10.2" fill="#131722"><text x="50.8" y="656.8">Stock Screener</text><text x="154.2" y="656.8">Pine Editor</text><text x="228.8" y="656.8" fill="#2962ff">Strategy Tester</text><text x="323.8" y="656.8">Trading Panel</text></g>
<path d="M130.6 652 L133 654.4 L135.4 652" fill="none" stroke="#131722" stroke-width="1.1"/>
<rect x="1350" y="657.1" width="11" height="1.1" fill="#50535e"/>
<rect x="1376.5" y="647.5" width="12" height="11" rx="2.5" fill="none" stroke="#131722" stroke-width="1.1"/>
<rect x="1374" y="651" width="17" height="2.6" fill="#fff"/>
<path d="M16.5 10.9 V17.2 M16.5 22.2 V28.6 M8 19.3 H14.1 M19.2 19.3 H25.4" fill="none" stroke="#7d9bf3" stroke-width="1.1"/><g fill="none" stroke="#2a2e39" stroke-width="1.05" stroke-linecap="round" stroke-linejoin="round"><line x1="11.2" y1="51.4" x2="21.8" y2="41.2"/><circle cx="10" cy="52.6" r="1.6"/><circle cx="23" cy="40" r="1.6"/></g><g fill="none" stroke="#2a2e39" stroke-width="1.05" stroke-linecap="round" stroke-linejoin="round"><path d="M8.2 66.3 H24.7 M8.2 70.6 H22.4 M8.2 75.4 H24.7 M10.2 79.5 H24.7"/><circle cx="24" cy="70.6" r="1.6"/><circle cx="8.6" cy="79.6" r="1.6"/></g><g fill="none" stroke="#2a2e39" stroke-width="1.05" stroke-linecap="round" stroke-linejoin="round"><path d="M11.8 95.2 L9.9 105.1 M10.9 105.6 L14.6 99.8 M12.6 95 L14.6 97.6 M16.3 98.2 L19.9 95.4 M16.4 99.6 L22.2 103.1 M21.4 96.1 L23.3 102.4"/><circle cx="11.9" cy="93.6" r="1.6"/><circle cx="21" cy="94.5" r="1.6"/><circle cx="9.8" cy="106.6" r="1.6"/><circle cx="23.6" cy="104" r="1.6"/><rect x="14.5" y="97.9" width="1.9" height="1.9"/></g><g fill="none" stroke="#2a2e39" stroke-width="1.05" stroke-linecap="round" stroke-linejoin="round"><path d="M10.7 121.6 H23.8 M10.7 133.6 H23.8"/><circle cx="9.1" cy="121.6" r="1.6"/><circle cx="9.1" cy="129" r="1.6"/><circle cx="23.1" cy="129" r="1.6"/><circle cx="9.1" cy="133.6" r="1.6"/></g><path d="M10.7 129 H21.5" stroke="#9598a1" stroke-width="1.1"/><path d="M12.7 127.2 L22.2 123.4" stroke="#9598a1" stroke-width="0.9" stroke-dasharray="1.4 1.6"/><g fill="none" stroke="#2a2e39" stroke-width="1.05" stroke-linecap="round" stroke-linejoin="round"><path d="M8 160.1 H14.5 C17.5 159.5 19.5 157 19 154 C18.5 152.5 16.5 152 15 152.8 C12 154.5 9.5 157 8 160.1 Z M19.3 149.6 C19 151.8 20 152.9 21.5 152.6 L26.5 148.6"/></g><g fill="none" stroke="#2a2e39" stroke-width="1.05" stroke-linecap="round" stroke-linejoin="round"><path d="M12.2 177 V174.1 H21.8 V177 M16.6 174.1 V187.7 M15 187.7 H18.6"/></g><g fill="none" stroke="#2a2e39" stroke-width="1.05" stroke-linecap="round" stroke-linejoin="round"><circle cx="16.3" cy="207.6" r="8"/><path d="M14.1 209.6 C15 211.6 17.6 211.6 18.6 209.6"/></g><circle cx="14.3" cy="206.4" r="0.85" fill="#2a2e39"/><circle cx="18.6" cy="206.4" r="0.85" fill="#2a2e39"/><rect x="3" y="226" width="27" height="1" fill="#e3e5ec"/><g fill="none" stroke="#2a2e39" stroke-width="1.05" stroke-linecap="round" stroke-linejoin="round"><path d="M7.3 249.5 L21.3 235.9 L25.4 239.5 L11.3 253.6 Z M10.5 246.4 L11.9 247.8 M13 244 L14.4 245.4 M15.4 241.6 L17.2 243.4 M17.9 239.2 L19.3 240.6 M20.3 236.8 L21.8 238.3"/></g><g fill="none" stroke="#2a2e39" stroke-width="1.05" stroke-linecap="round" stroke-linejoin="round"><circle cx="15.4" cy="270.3" r="6.3"/><path d="M20 275 L22.5 277.7 M15.4 267.6 V273 M12.7 270.3 H18.1"/></g><rect x="3" y="289" width="27" height="1" fill="#e3e5ec"/><g fill="none" stroke="#2a2e39" stroke-width="1.05" stroke-linecap="round" stroke-linejoin="round"><path d="M10.2 314.3 V307 A6.3 6.3 0 0 1 22.8 307 V314.3 H19.3 V307 A2.8 2.8 0 0 0 13.7 307 V314.3 Z M10.2 311.4 H13.7 M19.3 311.4 H22.8"/></g><rect x="5" y="324.1" width="22.7" height="22" rx="3.2" fill="#2962ff"/><g fill="none" stroke="#fff" stroke-width="1.05" stroke-linejoin="round"><path d="M8.4 338 L8.9 335.2 L18.4 326.5 L21 329 L11.5 337.8 Z M16.9 328 L19.4 330.5"/><rect x="17.3" y="337.6" width="6.8" height="4.8" rx="0.8"/><path d="M18.9 337.6 V336.3 A1.8 1.8 0 0 1 22.5 336.3 V337.6"/></g><rect x="20.3" y="339.6" width="0.9" height="0.9" fill="#fff"/><g fill="none" stroke="#2a2e39" stroke-width="1.05" stroke-linecap="round" stroke-linejoin="round"><rect x="10.3" y="361.3" width="12.4" height="8.4" rx="1.8"/><path d="M13.6 361.3 V358.5 A2.9 2.9 0 0 1 19.4 358"/><path d="M16.4 364.6 V366.3" stroke-width="1.5"/></g><g fill="none" stroke="#2a2e39" stroke-width="1.05" stroke-linecap="round" stroke-linejoin="round"><path d="M8.8 385.9 C11 381.3 20.8 381.3 23.1 385.9 C20.8 390.5 11 390.5 8.8 385.9 Z"/><circle cx="15.9" cy="385.9" r="2.4"/><path d="M17 396.6 L18.5 394.5 L23 392.5 L24.5 393.5 L20 396 Z M21 392.6 L22.5 395"/></g><rect x="5.2" y="404.5" width="22.7" height="22.2" rx="3.2" fill="#2962ff"/><g fill="none" stroke="#fff" stroke-width="1.05" stroke-linecap="round"><path d="M14.8 419.5 L13 421.3 A2.5 2.5 0 0 1 9.5 417.8 L13.2 414.1 A2.5 2.5 0 0 1 16.7 414.1 M17.6 412 L19.6 410 A2.5 2.5 0 0 1 23.1 413.5 L19.4 417.2 A2.5 2.5 0 0 1 15.9 417.2 M14.2 417.5 L19 412.8"/></g><rect x="3" y="433.6" width="27" height="1" fill="#e3e5ec"/><g fill="none" stroke="#2a2e39" stroke-width="1.05" stroke-linecap="round" stroke-linejoin="round"><path d="M9.8 448.2 H22.9 M13.8 448.2 V446.3 H18.9 V448.2 M10.9 448.2 V459.4 H21.8 V448.2 M14.4 451 V456.6 M18.4 451 V456.6"/></g>
<g fill="none" stroke="#2a2e39" stroke-width="1.05" stroke-linecap="round" stroke-linejoin="round"><rect x="1408.6" y="10.6" width="17" height="16.6" rx="2.5"/><path d="M1411.8 14.1 H1422.4 M1411.8 17.4 H1422.4 M1411.8 20.6 H1422.4 M1411.8 23.6 H1422.4"/></g><g fill="none" stroke="#2a2e39" stroke-width="1.05" stroke-linecap="round" stroke-linejoin="round"><circle cx="1416.6" cy="53.6" r="6.9"/><path d="M1416.6 49.3 V54.3 H1413 M1412 60.3 L1410.6 61.6 M1421.2 60.3 L1422.6 61.6"/></g><path d="M1409.3 49.4 A3.4 3.4 0 0 1 1413.8 45.2 M1419.4 45.2 A3.4 3.4 0 0 1 1423.9 49.4" fill="none" stroke="#2a2e39" stroke-width="1.05" stroke-linecap="round" stroke-linejoin="round"/><g fill="none" stroke="#2a2e39" stroke-width="1.05" stroke-linecap="round" stroke-linejoin="round"><path d="M1406.5 81.5 H1412.3 M1409.4 78.6 V84.4"/><path d="M1414.5 80.2 H1423.5 A2 2 0 0 1 1425.5 82.2 V94.7 A2 2 0 0 1 1423.5 96.7 H1411 A2 2 0 0 1 1409 94.7 V86.5"/><rect x="1412.3" y="83.9" width="10.5" height="3.2" rx="1.6"/><path d="M1412.3 89.9 H1422.8 M1412.3 93 H1422.8"/></g><g fill="none" stroke="#2a2e39" stroke-width="1.05" stroke-linecap="round" stroke-linejoin="round"><path d="M1415.9 112.3 C1419 115 1421.3 118 1421.4 121.3 L1422.7 119 C1424.4 121 1425 123 1424.8 125.5 C1424.5 129.5 1421.5 132 1419.2 132 C1418 132 1417.3 130.5 1416.8 128.8 C1416.3 130.5 1415.5 132 1414 132 C1411 132 1408.5 129 1408.5 125 C1408.5 121.5 1410.5 118.5 1413.6 116.8 L1414.3 118.6 C1414.6 116 1415 114 1415.9 112.3 Z"/></g><g fill="none" stroke="#2a2e39" stroke-width="1.05" stroke-linecap="round" stroke-linejoin="round"><rect x="1408.3" y="149.5" width="17" height="16" rx="2"/><path d="M1412.3 147.3 V150.5 M1420.9 147.3 V150.5"/></g><circle cx="1412.3" cy="153.8" r="0.95" fill="none" stroke="#2a2e39" stroke-width="0.9"/><circle cx="1416.6" cy="153.8" r="0.95" fill="none" stroke="#2a2e39" stroke-width="0.9"/><circle cx="1421" cy="153.8" r="0.95" fill="none" stroke="#2a2e39" stroke-width="0.9"/><circle cx="1412.3" cy="157.8" r="0.95" fill="none" stroke="#2a2e39" stroke-width="0.9"/><circle cx="1416.6" cy="157.8" r="0.95" fill="none" stroke="#2a2e39" stroke-width="0.9"/><circle cx="1421" cy="157.8" r="0.95" fill="none" stroke="#2a2e39" stroke-width="0.9"/><circle cx="1412.3" cy="162" r="0.95" fill="none" stroke="#2a2e39" stroke-width="0.9"/><circle cx="1416.6" cy="162" r="0.95" fill="none" stroke="#2a2e39" stroke-width="0.9"/><g fill="none" stroke="#2a2e39" stroke-width="1.05" stroke-linecap="round" stroke-linejoin="round"><path d="M1413.6 194.3 C1411.5 193 1410.3 190.8 1410.3 188.4 A6.8 6.8 0 0 1 1423.9 188.4 C1423.9 190.8 1422.7 193 1420.6 194.3 V198.5 C1420.6 199.5 1419.5 200.3 1417.1 200.3 C1414.7 200.3 1413.6 199.5 1413.6 198.5 Z M1413.6 194.4 H1420.6 M1413.6 197 H1420.6 M1415.6 189.5 H1418.6 M1417.1 189.5 V194.3"/></g><rect x="1404" y="212.3" width="24.6" height="1" fill="#e3e5ec"/><g fill="none" stroke="#2a2e39" stroke-width="1.05" stroke-linecap="round" stroke-linejoin="round"><path d="M1409.5 241 C1406.5 241 1405.5 236 1408.5 234.5 C1406.5 231 1409.5 227.5 1412.5 228.5 C1413.5 224.5 1419.5 223.5 1421 227.5 C1424.5 227 1426 230.5 1424.5 233 C1428.5 234 1428 240.5 1423.5 240.5 C1422.5 242.5 1419 242.5 1417.5 241 C1415.5 242.5 1411.5 242.5 1409.5 241 Z M1411.6 232.5 H1421.8 M1411.6 235.3 H1417.7"/><circle cx="1423.8" cy="243.2" r="1.4"/></g><g fill="none" stroke="#2a2e39" stroke-width="1.05" stroke-linecap="round" stroke-linejoin="round"><path d="M1410.2 258.5 H1420.3 A2 2 0 0 1 1422.3 260.5 V268.7 A2 2 0 0 1 1420.3 270.7 H1411.5 L1408.2 273.5 V260.5 A2 2 0 0 1 1410.2 258.5 Z M1422.3 264.4 H1423.9 A2 2 0 0 1 1425.9 266.4 V276.2 L1422.8 273.5 H1416.5 A2 2 0 0 1 1414.5 271.5 V270.7 M1411.4 262.7 H1419.6 M1411.4 265.7 H1416.8"/></g><g fill="none" stroke="#2a2e39" stroke-width="1.05" stroke-linecap="round" stroke-linejoin="round"><path d="M1413.6 303 C1411.5 301.5 1410.8 299.5 1410.8 297.5 A6.3 6.3 0 0 1 1423.4 297.5 C1423.4 299.5 1422.7 301.5 1420.6 303 V308.3 C1420.6 309.3 1419.5 310 1417.1 310 C1414.7 310 1413.6 309.3 1413.6 308.3 Z M1413.6 305.5 H1420.6 M1417.1 299.5 V303 M1415.4 299.5 H1418.8 M1406.3 293.6 C1404.6 296.5 1404.6 301 1406.3 304 M1427.9 293.6 C1429.6 296.5 1429.6 301 1427.9 304 M1408.6 295.3 C1407.6 297.5 1407.6 300 1408.6 302.2 M1425.6 295.3 C1426.6 297.5 1426.6 300 1425.6 302.2"/></g><rect x="1409.1" y="286.8" width="20" height="12.3" rx="6.15" fill="#f23645"/><text x="1419.1" y="296.2" font-size="9.2" fill="#fff" stroke="#fff" stroke-width="0.25" text-anchor="middle" textLength="15" lengthAdjust="spacingAndGlyphs">99+</text><g fill="none" stroke="#2a2e39" stroke-width="1.05" stroke-linecap="round" stroke-linejoin="round"><path d="M1410 326.5 C1405.5 330.5 1405.5 340 1410 344.3 M1424 326.5 C1428.5 330.5 1428.5 340 1424 344.3 M1412.8 329.8 C1410 332.5 1410 338 1412.8 340.8 M1421.2 329.8 C1424 332.5 1424 338 1421.2 340.8 M1415 331.9 L1420.6 335.3 L1415 338.7 Z"/></g><g fill="none" stroke="#2a2e39" stroke-width="1.05" stroke-linecap="round" stroke-linejoin="round"><path d="M1411.4 374.5 V368.5 A5.5 5.5 0 0 1 1422.4 368.5 V374.5 M1409.6 374.6 H1424.6 A1.4 1.4 0 0 1 1424.6 377.3 H1409.6 A1.4 1.4 0 0 1 1409.6 374.6 Z M1415 377.4 A1.9 1.9 0 0 0 1418.8 377.4"/></g><circle cx="1423.2" cy="361.8" r="6.1" fill="#f23645" stroke="#fff" stroke-width="0.8"/><text x="1423.3" y="365.3" font-size="9.5" fill="#fff" stroke="#fff" stroke-width="0.3" text-anchor="middle">1</text><g fill="none" stroke="#2a2e39" stroke-width="1.05" stroke-linecap="round" stroke-linejoin="round"><path d="M1417 628.5 L1426 634.5 L1417 640.5 L1408 634.5 Z M1408 637.5 L1417 643.5 L1426 637.5 M1408 640.5 L1417 646.5 L1426 640.5"/></g>
</svg>
</body></html>
